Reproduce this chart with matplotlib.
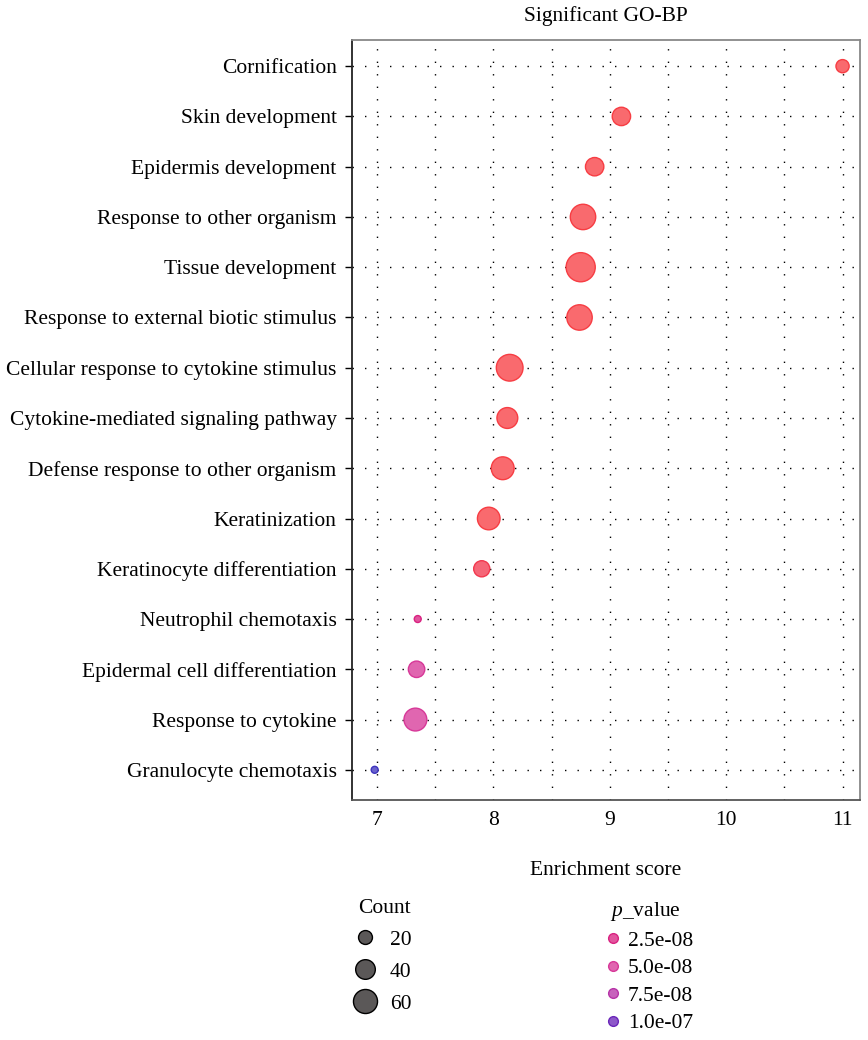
import numpy as np
import matplotlib
matplotlib.use("Agg")
import matplotlib.pyplot as plt
from matplotlib.colors import LinearSegmentedColormap, Normalize
from matplotlib.lines import Line2D

plt.rcParams["font.family"] = ["Liberation Serif", "DejaVu Serif"]
plt.rcParams["mathtext.fontset"] = "custom"
plt.rcParams["mathtext.it"] = "Liberation Serif:italic"
plt.rcParams["mathtext.rm"] = "Liberation Serif"

# GO-BP terms, top to bottom
terms = [
    "Cornification",
    "Skin development",
    "Epidermis development",
    "Response to other organism",
    "Tissue development",
    "Response to external biotic stimulus",
    "Cellular response to cytokine stimulus",
    "Cytokine-mediated signaling pathway",
    "Defense response to other organism",
    "Keratinization",
    "Keratinocyte differentiation",
    "Neutrophil chemotaxis",
    "Epidermal cell differentiation",
    "Response to cytokine",
    "Granulocyte chemotaxis",
]
enrichment = [11.0, 9.10, 8.87, 8.77, 8.75, 8.74, 8.14, 8.12, 8.08, 7.96, 7.90,
              7.35, 7.34, 7.33, 6.98]
counts = [18, 35, 35, 67, 88, 67, 74, 45, 54, 53, 27, 5, 28, 54, 5]
p_values = [1e-12, 1e-12, 1e-12, 1e-12, 1e-12, 1e-12, 1e-12, 1e-12, 1e-12,
            1e-12, 5e-9, 2.5e-8, 5e-8, 5e-8, 1.2e-7]

count_breaks = [20, 40, 60]
p_breaks = [2.5e-8, 5.0e-8, 7.5e-8, 1.0e-7]
p_break_labels = ["2.5e-08", "5.0e-08", "7.5e-08", "1.0e-07"]

FS = 15.5
P_MAX = 1.2e-7
cmap = LinearSegmentedColormap.from_list("pv", [
    (0.0, "#F96A6E"),
    (2.5 / 12, "#E2559E"),
    (5.0 / 12, "#E066B0"),
    (7.5 / 12, "#C862BC"),
    (10.0 / 12, "#8D58C9"),
    (1.0, "#6A62CC"),
])
norm = Normalize(vmin=0, vmax=P_MAX)


def edge_of(rgb, k=0.3):
    rgb = np.array(rgb[:3])
    return tuple(np.clip(rgb - k * (1 - rgb), 0, 1))


def size_of(c):
    return np.asarray(c, dtype=float) * 5.0


fig = plt.figure(figsize=(8.68, 10.4), dpi=100)
ax = fig.add_axes([0.4055, 0.2308, 0.5853, 0.7307])

y = np.arange(len(terms))[::-1]
faces = [cmap(norm(p)) for p in p_values]
edges = [edge_of(f) for f in faces]

ax.scatter(enrichment, y, s=size_of(counts), c=faces, edgecolors=edges,
           linewidths=1.0, zorder=3)

ax.set_xlim(6.785, 11.15)
ax.set_ylim(-0.6, len(terms) - 0.48)
ax.set_yticks(y)
ax.set_yticklabels(terms, fontsize=FS)
ax.set_xticks([7, 8, 9, 10, 11])
ax.set_xticks(np.arange(7.5, 11, 1.0), minor=True)
ax.tick_params(axis="x", length=0, labelsize=FS, pad=8, which="both")
ax.tick_params(axis="y", length=5, width=1, pad=6)

ax.grid(True, axis="x", which="both", color="black", linestyle=(0, (1, 8)),
        linewidth=1.0)
ax.grid(True, axis="y", color="black", linestyle=(0, (1, 8)), linewidth=1.0)
ax.set_axisbelow(True)

for side, sp in ax.spines.items():
    sp.set_linewidth(1.3)
    sp.set_color("#222222")
ax.spines["top"].set_color("#888888")
ax.spines["right"].set_color("#888888")
ax.spines["bottom"].set_color("#555555")

ax.set_title("Significant GO-BP", fontsize=FS, pad=14)
ax.set_xlabel("Enrichment score", fontsize=FS, labelpad=22)

# size legend
size_handles = [
    Line2D([], [], linestyle="none", marker="o",
           markersize=np.sqrt(size_of(c)), markerfacecolor="#5B5858",
           markeredgecolor="black", markeredgewidth=1.0)
    for c in count_breaks
]
leg1 = fig.legend(size_handles, [str(c) for c in count_breaks], title="Count",
                  loc="upper left", bbox_to_anchor=(0.4124, 0.1356),
                  frameon=False, fontsize=FS, title_fontsize=FS,
                  labelspacing=0.55, handletextpad=0.84, handlelength=0.65,
                  borderpad=0, borderaxespad=0, alignment="left")

# colour legend
col_handles = [
    Line2D([], [], linestyle="none", marker="o", markersize=7,
           markerfacecolor=cmap(norm(p)), markeredgecolor=edge_of(cmap(norm(p))),
           markeredgewidth=1.0)
    for p in p_breaks
]
leg2 = fig.legend(col_handles, p_break_labels, title=r"$\it{p}$_value",
                  loc="upper left", bbox_to_anchor=(0.7028, 0.1346),
                  frameon=False, fontsize=FS, title_fontsize=FS,
                  labelspacing=0.35, handletextpad=0.56, handlelength=0.28,
                  borderpad=0, borderaxespad=0, alignment="left")

fig.savefig("out.png", dpi=100, facecolor="white")
